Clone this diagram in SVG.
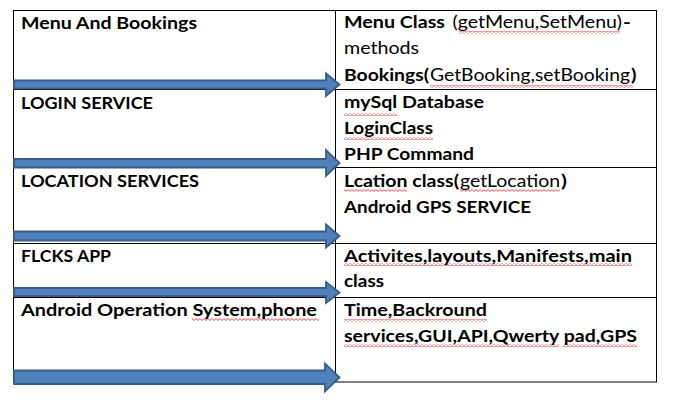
<svg xmlns="http://www.w3.org/2000/svg" width="678" height="400" viewBox="0 0 678 400">
<style>
.t{font-family:Lato,"Open Sans","Liberation Sans",sans-serif;font-size:17.8px;fill:#000}
.b{font-weight:bold}
.r{font-weight:normal}
.ln{stroke:#000;stroke-width:1;fill:none}
.arr{fill:#4F81BD;stroke:#385D8A;stroke-width:1.8;stroke-linejoin:miter}
</style>
<defs>
<pattern id="sq" width="4" height="3" patternUnits="userSpaceOnUse">
<path d="M0 0.6 L2 2.4 L4 0.6" stroke="#E02020" stroke-width="0.8" fill="none"/>
</pattern>
</defs>
<rect width="678" height="400" fill="#fff"/>
<g id="table">
<rect class="ln" x="13.5" y="10.5" width="643" height="371.5"/>
<line class="ln" x1="335.5" y1="10" x2="335.5" y2="382"/>
<line class="ln" x1="13" y1="89.5" x2="657" y2="89.5"/>
<line class="ln" x1="13" y1="167.5" x2="657" y2="167.5"/>
<line class="ln" x1="13" y1="243.5" x2="657" y2="243.5"/>
<line class="ln" x1="13" y1="297.5" x2="657" y2="297.5"/>
</g>
<g id="spellcheck">
<rect x="459" y="31" width="161" height="3" fill="url(#sq)"/>
<rect x="430" y="85" width="203" height="3" fill="url(#sq)"/>
<rect x="344" y="113" width="53" height="3" fill="url(#sq)"/>
<rect x="344" y="137" width="89" height="3" fill="url(#sq)"/>
<rect x="344" y="189" width="63" height="3" fill="url(#sq)"/>
<rect x="460" y="189" width="100" height="3" fill="url(#sq)"/>
<rect x="344" y="263" width="288" height="3" fill="url(#sq)"/>
<rect x="344" y="319" width="143" height="3" fill="url(#sq)"/>
<rect x="344" y="344" width="215" height="3" fill="url(#sq)"/>
<rect x="563" y="344" width="74" height="3" fill="url(#sq)"/>
<rect x="192" y="318" width="127" height="3" fill="url(#sq)"/>
</g>
<g id="row1">
<text class="t b" x="21" y="29" textLength="176" lengthAdjust="spacingAndGlyphs">Menu And Bookings</text>
<text class="t b" x="344" y="28" textLength="101" lengthAdjust="spacingAndGlyphs">Menu Class</text>
<text class="t r" x="452.5" y="28" textLength="169.5" lengthAdjust="spacingAndGlyphs">(getMenu,SetMenu)</text>
<text class="t b" x="623" y="28" textLength="8" lengthAdjust="spacingAndGlyphs">-</text>
<text class="t r" x="344" y="54" textLength="75" lengthAdjust="spacingAndGlyphs">methods</text>
<text class="t b" x="344" y="81" textLength="85" lengthAdjust="spacingAndGlyphs">Bookings(</text>
<text class="t r" x="430" y="81" textLength="200" lengthAdjust="spacingAndGlyphs">GetBooking,setBooking</text>
<text class="t b" x="631" y="81" textLength="5.5" lengthAdjust="spacingAndGlyphs">)</text>
</g>
<g id="row2">
<text class="t b" x="21" y="109" textLength="132" lengthAdjust="spacingAndGlyphs">LOGIN SERVICE</text>
<text class="t b" x="344" y="108" textLength="140" lengthAdjust="spacingAndGlyphs">mySql Database</text>
<text class="t b" x="344" y="134" textLength="89" lengthAdjust="spacingAndGlyphs">LoginClass</text>
<text class="t b" x="344" y="160" textLength="130" lengthAdjust="spacingAndGlyphs">PHP Command</text>
</g>
<g id="row3">
<text class="t b" x="21" y="187" textLength="178" lengthAdjust="spacingAndGlyphs">LOCATION SERVICES</text>
<text class="t b" x="344" y="187" textLength="115" lengthAdjust="spacingAndGlyphs">Lcation class(</text>
<text class="t r" x="460" y="187" textLength="100" lengthAdjust="spacingAndGlyphs">getLocation</text>
<text class="t b" x="561" y="187" textLength="6" lengthAdjust="spacingAndGlyphs">)</text>
<text class="t b" x="344" y="213" textLength="187" lengthAdjust="spacingAndGlyphs">Android GPS SERVICE</text>
</g>
<g id="row4">
<text class="t b" x="21" y="262" textLength="90" lengthAdjust="spacingAndGlyphs">FLCKS APP</text>
<text class="t b" x="344" y="262" textLength="288" lengthAdjust="spacingAndGlyphs">Activites,layouts,Manifests,main</text>
<text class="t b" x="344" y="287" textLength="40" lengthAdjust="spacingAndGlyphs">class</text>
</g>
<g id="row5">
<text class="t b" x="21" y="316" textLength="296" lengthAdjust="spacingAndGlyphs">Android Operation System,phone</text>
<text class="t b" x="344" y="316" textLength="143" lengthAdjust="spacingAndGlyphs">Time,Backround</text>
<text class="t b" x="344" y="342" textLength="293" lengthAdjust="spacingAndGlyphs">services,GUI,API,Qwerty pad,GPS</text>
</g>
<g id="connectors">
<polygon class="arr" points="14,80.5 326,80.5 326,73.5 339.5,84.5 326,96 326,88.5 14,88.5"/>
<polygon class="arr" points="14,159 326,159 326,150 339.5,163 326,176 326,167.5 14,167.5"/>
<polygon class="arr" points="14,231.5 326,231.5 326,224.5 339.5,236 326,247.5 326,240.5 14,240.5"/>
<polygon class="arr" points="14,288 326,288 326,282 339.5,292.5 326,303 326,296 14,296"/>
<polygon class="arr" points="14,370.5 325,370.5 325,363.5 339.5,377.5 325,391.5 325,384 14,384"/>
</g>
</svg>
